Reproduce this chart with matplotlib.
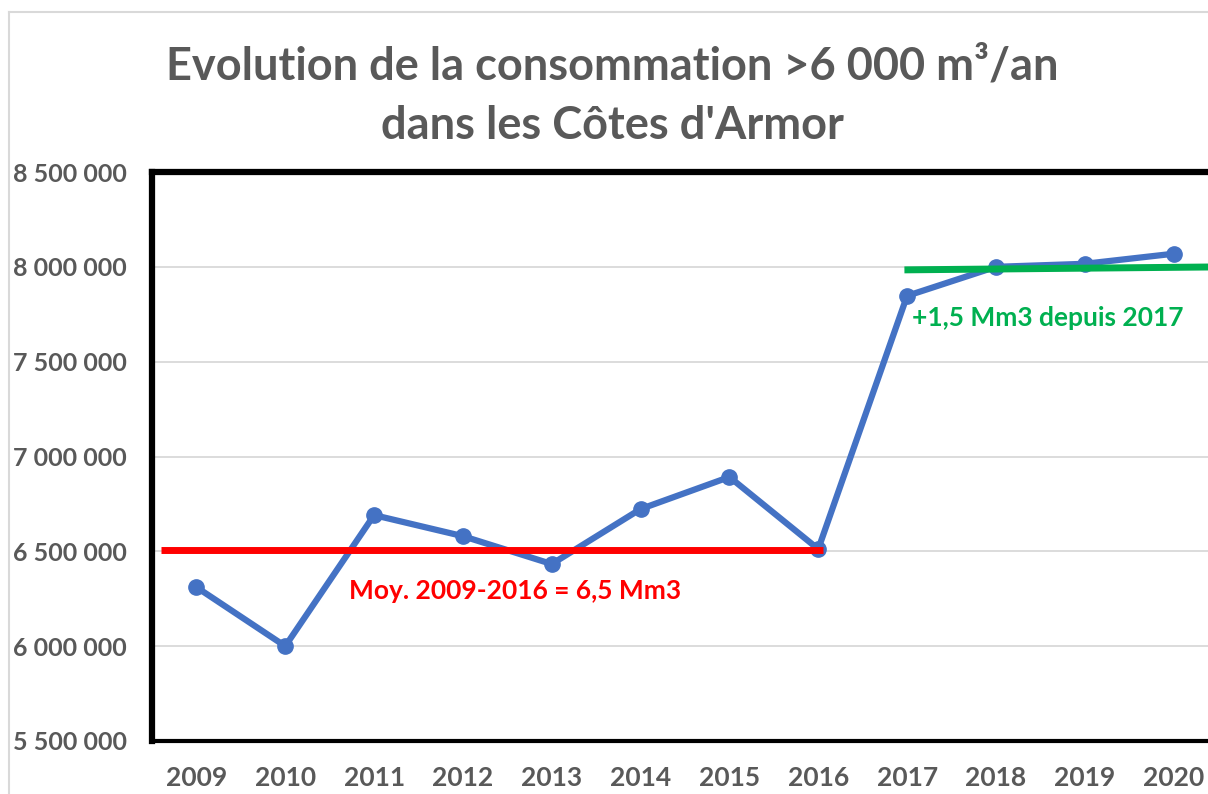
import matplotlib.pyplot as plt
from matplotlib.lines import Line2D
from matplotlib.ticker import FuncFormatter

years = [2009, 2010, 2011, 2012, 2013, 2014, 2015, 2016, 2017, 2018, 2019, 2020]
conso = [6311000, 6000000, 6691000, 6580000, 6433000, 6723000,
         6892000, 6512000, 7847000, 8000000, 8016000, 8069000]

moy_x = [2008.6, 2016.05]
moy_y = [6505000, 6505000]
trend_x = [2016.97, 2020.6]
trend_y = [7984000, 8000000]

grey = '#595959'
plt.rcParams['font.family'] = ['Lato', 'DejaVu Sans']

fig = plt.figure(figsize=(12.08, 7.94), dpi=100)
ax = fig.add_axes([152/1208, 53/794, (1218-152)/1208, (741-172)/794])

ax.plot(years, conso, color='#4472C4', lw=4.5, marker='o', ms=11, zorder=3)
ax.plot(moy_x, moy_y, color='#FF0000', lw=5, solid_capstyle='butt', zorder=4)
ax.plot(trend_x, trend_y, color='#00B050', lw=5, solid_capstyle='butt', zorder=4)

ax.text(2010.72, 6290000, 'Moy. 2009-2016 = 6,5 Mm3', color='#FF0000',
        fontsize=19, fontweight='bold', va='center')
ax.text(2017.06, 7730000, '+1,5 Mm3 depuis 2017', color='#00B050',
        fontsize=19, fontweight='bold', va='center')

ax.set_xlim(2008.5, 2020.5)
ax.set_ylim(5500000, 8500000)
ax.set_xticks(years)
ax.set_yticks(range(5500000, 8500001, 500000))
ax.yaxis.set_major_formatter(FuncFormatter(lambda v, p: f'{int(v):,}'.replace(',', ' ')))
ax.grid(axis='y', color='#D9D9D9', lw=1.3)
ax.set_axisbelow(True)
ax.tick_params(length=0, labelcolor=grey)
ax.tick_params(axis='x', labelsize=19, pad=18)
ax.tick_params(axis='y', labelsize=18, pad=100)
for lab in ax.get_xticklabels() + ax.get_yticklabels():
    lab.set_fontweight('bold')
for lab in ax.get_yticklabels():
    lab.set_horizontalalignment('left')

ax.spines['right'].set_visible(False)
ax.spines['left'].set_linewidth(4.5)
ax.spines['top'].set_linewidth(4.5)
ax.spines['bottom'].set_linewidth(3)
for s in ['left', 'top', 'bottom']:
    ax.spines[s].set_color('black')

# outer chart frame
fig.add_artist(Line2D([9/1208, 9/1208], [0, 1 - 12/794], color='#D9D9D9', lw=1.5))
fig.add_artist(Line2D([9/1208, 1], [1 - 12/794, 1 - 12/794], color='#D9D9D9', lw=1.5))

fig.text(612/1208, 1 - 66/794, 'Evolution de la consommation >6 000 m³/an',
         ha='center', va='center', fontsize=32.5, fontweight='bold', color=grey)
fig.text(612/1208, 1 - 126/794, "dans les Côtes d'Armor",
         ha='center', va='center', fontsize=32.5, fontweight='bold', color=grey)

fig.savefig('out.png', dpi=100)
